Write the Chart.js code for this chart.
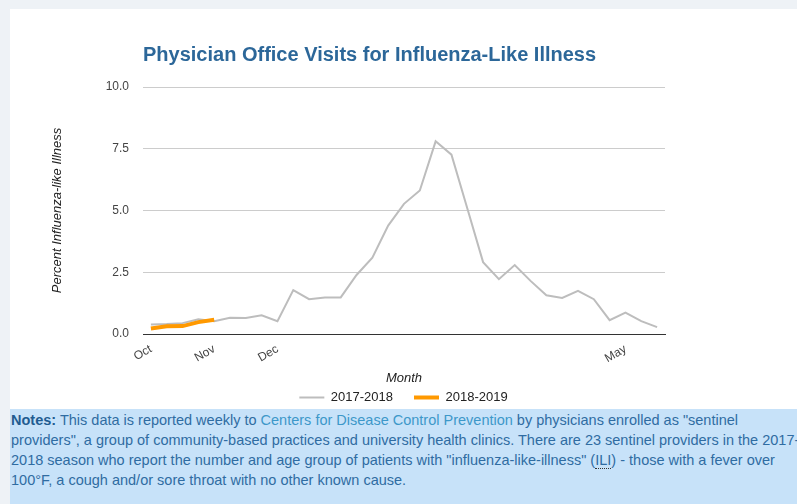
<!DOCTYPE html>
<html>
<head>
<meta charset="utf-8">
<script src="https://cdn.jsdelivr.net/npm/chart.js@4.4.1/dist/chart.umd.min.js"></script>
<style>
  html, body { margin: 0; padding: 0; }
  body {
    width: 797px; height: 504px; overflow: hidden;
    background: #eef2f6;
    font-family: "Liberation Sans", Arial, sans-serif;
  }
  .card {
    position: absolute; left: 10px; top: 9px;
    width: 787px; height: 400px; background: #fff;
  }
  .notes {
    position: absolute; left: 10px; top: 409px;
    width: 796px; height: 94px;
    padding: 1px 1px 0 1px;
    background: #c7e2f9;
    color: #2f6ca2;
    font-size: 14.5px; line-height: 20px;
  }
  .notes b { color: #1f5c91; }
  .notes a { color: #3d98c9; text-decoration: none; }
  .notes abbr { text-decoration: none; border-bottom: 1px dotted #333; }
</style>
</head>
<body>
<div class="card"><canvas id="fluChart" width="787" height="405"></canvas></div>
<div class="notes"><b>Notes:</b> This data is reported weekly to <a href="#">Centers for Disease Control Prevention</a> by physicians enrolled as "sentinel providers", a group of community-based practices and university health clinics. There are 23 sentinel providers in the 2017-2018 season who report the number and age group of patients with "influenza-like-illness" (<abbr title="influenza-like-illness">ILI</abbr>) - those with a fever over 100°F, a cough and/or sore throat with no other known cause.</div>

<script>
// weekly categories, only month starts carry a label
const weeks = ['Oct', '', '', '', 'Nov', '', '', '', 'Dec', '', '', '', '', '', '', '', '',
               '', '', '', '', '', '', '', '', '', '', '', '', '', 'May', '', ''];

const season1718 = [0.38, 0.40, 0.44, 0.60, 0.52, 0.66, 0.65, 0.76, 0.52, 1.78, 1.41,
                    1.48, 1.48, 2.39, 3.09, 4.39, 5.27, 5.81, 7.80, 7.26, 5.09, 2.91,
                    2.22, 2.79, 2.15, 1.57, 1.46, 1.75, 1.41, 0.56, 0.87, 0.52, 0.28];
const season1819 = [0.22, 0.31, 0.32, 0.48, 0.58];

const yTicks = [0, 2.5, 5, 7.5, 10];

const font = '"Liberation Sans", Arial, sans-serif';

document.addEventListener('DOMContentLoaded', () => {
    const ctx = document.getElementById('fluChart').getContext('2d');

    new Chart(ctx, {
        type: 'line',
        data: {
            labels: weeks,
            datasets: [{
                label: '2017-2018',
                data: season1718,
                borderColor: '#bdbdbd',
                backgroundColor: '#bdbdbd',
                borderWidth: 2,
                pointRadius: 0,
                order: 1
            }, {
                label: '2018-2019',
                data: season1819,
                borderColor: '#ff9900',
                backgroundColor: '#ff9900',
                borderWidth: 4,
                pointRadius: 0,
                order: 0
            }]
        },
        options: {
            responsive: false,
            animation: false,
            events: [],
            layout: { padding: 0 },
            plugins: {
                title: {
                    display: true,
                    text: 'Physician Office Visits for Influenza-Like Illness',
                    align: 'start',
                    fullSize: false,
                    color: '#2c6799',
                    font: { family: font, size: 20, weight: 'bold' },
                    padding: { top: 34, bottom: 20 }
                },
                legend: {
                    position: 'bottom',
                    labels: {
                        usePointStyle: true,
                        pointStyle: 'line',
                        pointStyleWidth: 25,
                        padding: 21,
                        color: '#222',
                        font: { family: font, size: 13 },
                        sort: (a, b) => a.datasetIndex - b.datasetIndex
                    }
                },
                tooltip: { enabled: false }
            },
            scales: {
                x: {
                    offset: true,
                    afterFit: (s) => { s.height = 36; },
                    grid: { display: false },
                    border: { display: true, color: '#333', width: 1 },
                    ticks: {
                        autoSkip: false,
                        maxRotation: 30,
                        minRotation: 30,
                        padding: 0,
                        color: '#444',
                        font: { family: font, size: 12 }
                    },
                    title: {
                        display: true,
                        text: 'Month',
                        color: '#222',
                        font: { family: font, size: 13, style: 'italic' },
                        padding: { top: 0, bottom: -16 }
                    }
                },
                y: {
                    min: 0,
                    max: 10,
                    afterFit: (s) => { s.width = 133; },
                    afterBuildTicks: (s) => { s.ticks = yTicks.map(v => ({ value: v })); },
                    grid: {
                        drawTicks: false,
                        color: (c) => c.tick && c.tick.value === 0 ? '#333' : '#cccccc'
                    },
                    border: { display: false },
                    ticks: {
                        padding: 14,
                        color: '#444',
                        font: { family: font, size: 12 },
                        callback: (v) => Number(v).toFixed(1)
                    },
                    title: {
                        display: true,
                        text: 'Percent Influenza-like Illness',
                        color: '#222',
                        font: { family: font, size: 13, style: 'italic' },
                        padding: { top: 40, bottom: 0 }
                    }
                },
                yRight: {
                    position: 'right',
                    display: true,
                    afterFit: (s) => { s.width = 132; },
                    grid: { display: false },
                    border: { display: false },
                    ticks: { display: false }
                }
            }
        }
    });
});
</script>
</body>
</html>
